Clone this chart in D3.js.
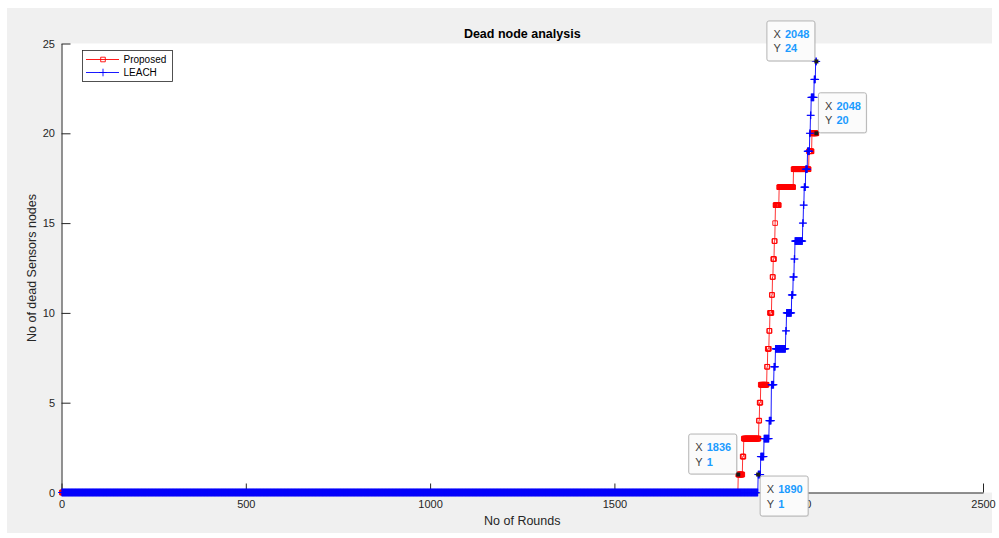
<!DOCTYPE html>
<html>
<head>
<meta charset="utf-8">
<script src="https://cdn.jsdelivr.net/npm/d3@7"></script>
<style>
  body { margin: 0; background: #ffffff; }
  svg { display: block; font-family: Arial, "Liberation Sans", Helvetica, sans-serif; }
</style>
</head>
<body>
<svg id="chart" width="999" height="538"></svg>
<script>
// Simulation length (rounds) and the round at which each successive node died.
const lastRound = 2048;
const proposedDeathRounds = [1836, 1848, 1851, 1892, 1894, 1897, 1914, 1916, 1920, 1922,
                             1927, 1929, 1931, 1934, 1936, 1937, 1947, 1986, 2028, 2036];
const leachDeathRounds = [1890, 1897, 1906, 1920, 1926, 1926, 1933, 1937, 1965, 1967,
                          1981, 1985, 1988, 1990, 2011, 2013, 2015, 2019, 2024, 2030,
                          2032, 2034, 2042, 2046];
const seriesNames = ["Proposed", "LEACH"];
const xTicks = [0, 500, 1000, 1500, 2000, 2500];
const yTicks = [0, 5, 10, 15, 20, 25];
// Pinned data tips: series, round, and which side of the point the box sits on.
const tipSeries = ["LEACH", "Proposed", "Proposed", "LEACH"];
const tipRounds = [2048, 2048, 1836, 1890];
const tipSides = ["nw", "ne", "nw", "se"];

// Dead-node count at every round 1..lastRound
function deadPerRound(deaths) {
  const out = [];
  for (let r = 1; r <= lastRound; r++) {
    out.push({ r, v: deaths.filter(d => d <= r).length });
  }
  return out;
}
const proposed = deadPerRound(proposedDeathRounds);
const leach = deadPerRound(leachDeathRounds);
const seriesData = { Proposed: proposed, LEACH: leach };

const svg = d3.select("#chart");
const axL = 61.5, axR = 983, axT = 43.5, axB = 492.5;

const x = d3.scaleLinear().domain([0, 2500]).range([axL, axR]);
const y = d3.scaleLinear().domain([0, 25]).range([axB, axT]);

// figure and axes backgrounds
svg.append("rect").attr("x", 7).attr("y", 8).attr("width", 985).attr("height", 525).attr("fill", "#f0f0f0");
svg.append("rect").attr("x", axL).attr("y", axT).attr("width", 992 - axL).attr("height", axB - axT).attr("fill", "#ffffff");

const axisColor = "#262626";

// x axis
const gx = svg.append("g").attr("transform", `translate(0,${axB})`)
  .call(d3.axisBottom(x).tickValues(xTicks).tickFormat(d3.format("d")).tickSizeInner(-9).tickSizeOuter(0).tickPadding(7.5));
// y axis
const gy = svg.append("g").attr("transform", `translate(${axL},0)`)
  .call(d3.axisLeft(y).tickValues(yTicks).tickFormat(d3.format("d")).tickSizeInner(-9).tickSizeOuter(0).tickPadding(6.5));
[gx, gy].forEach(g => {
  g.select(".domain").attr("stroke", axisColor).attr("stroke-width", 1);
  g.selectAll(".tick line").attr("stroke", axisColor).attr("stroke-width", 1);
  g.selectAll(".tick text").attr("fill", axisColor).attr("font-size", 11).attr("font-family", "Arial, 'Liberation Sans', sans-serif");
});

// titles
svg.append("text").attr("x", (axL + axR) / 2).attr("y", 38).attr("text-anchor", "middle")
  .attr("font-size", 12.5).attr("font-weight", "bold").attr("fill", "#000").text("Dead node analysis");
svg.append("text").attr("x", (axL + axR) / 2).attr("y", 525).attr("text-anchor", "middle")
  .attr("font-size", 12.5).attr("fill", axisColor).text("No of Rounds");
svg.append("text").attr("transform", `translate(36,${(axT + axB) / 2}) rotate(-90)`).attr("text-anchor", "middle")
  .attr("font-size", 12.5).attr("fill", axisColor).text("No of dead Sensors nodes");

const line = d3.line().x(d => x(d.r)).y(d => y(d.v));
const sq = 4.6;      // square marker side
const arm = 3.8;     // plus marker half-length
const squarePath = `M${-sq / 2},${-sq / 2}h${sq}v${sq}h${-sq}z`;
const plusPath = `M${-arm},0H${arm}M0,${-arm}V${arm}`;

// Proposed: red line with square markers
const gP = svg.append("g");
gP.append("path").datum(proposed).attr("d", line).attr("fill", "none").attr("stroke", "#ff0000").attr("stroke-width", 0.8);
gP.selectAll("path.m").data(proposed).join("path").attr("class", "m")
  .attr("transform", d => `translate(${x(d.r)},${y(d.v)})`).attr("d", squarePath)
  .attr("fill", "none").attr("stroke", "#ff0000").attr("stroke-width", 0.9);

// LEACH: blue line with plus markers
const gL = svg.append("g");
gL.append("path").datum(leach).attr("d", line).attr("fill", "none").attr("stroke", "#0000ff").attr("stroke-width", 0.9);
gL.selectAll("path.m").data(leach).join("path").attr("class", "m")
  .attr("transform", d => `translate(${x(d.r)},${y(d.v)})`).attr("d", plusPath)
  .attr("fill", "none").attr("stroke", "#0000ff").attr("stroke-width", 0.9);

// legend
const lg = svg.append("g").attr("transform", "translate(82.5,50.5)");
lg.append("rect").attr("width", 90).attr("height", 31).attr("fill", "#fff").attr("stroke", axisColor).attr("stroke-width", 0.8);
const legendColors = ["#ff0000", "#0000ff"];
const legendPaths = [squarePath, plusPath];
seriesNames.forEach((name, i) => {
  const row = lg.append("g").attr("transform", `translate(0,${9 + i * 13})`);
  row.append("line").attr("x1", 3.5).attr("x2", 36.5).attr("stroke", legendColors[i]).attr("stroke-width", 0.9);
  row.append("path").attr("d", legendPaths[i]).attr("transform", "translate(20.5,0)")
    .attr("fill", "none").attr("stroke", legendColors[i]).attr("stroke-width", 0.9);
  row.append("text").attr("x", 41).attr("y", 3.8).attr("font-size", 10).attr("fill", "#000").text(name);
});

// data tips
const tipW = 48, tipH = 40;
tipSeries.forEach((s, i) => {
  const pt = seriesData[s].find(d => d.r === tipRounds[i]);
  const px = x(pt.r), py = y(pt.v);
  const side = tipSides[i];
  const bx = side.includes("w") ? px - 1.5 - tipW : px + 2;
  const by = side.includes("n") ? py - 0.5 - tipH : py + 1.5;
  const g = svg.append("g");
  g.append("rect").attr("x", bx + 1).attr("y", by + 1).attr("width", tipW).attr("height", tipH).attr("rx", 2)
    .attr("fill", "#000").attr("opacity", 0.06);
  g.append("rect").attr("x", bx).attr("y", by).attr("width", tipW).attr("height", tipH).attr("rx", 2)
    .attr("fill", "#fbfbfb").attr("stroke", "#b4b4b4").attr("stroke-width", 1);
  [["X", pt.r], ["Y", pt.v]].forEach(([lab, val], j) => {
    const t = g.append("text").attr("x", bx + 6.5).attr("y", by + 17 + j * 14.5).attr("font-size", 11);
    t.append("tspan").attr("fill", "#404040").text(lab);
    t.append("tspan").attr("x", bx + 18).attr("fill", "#1c9bff").attr("font-weight", "bold").text(val);
  });
  g.append("rect").attr("x", px - 2).attr("y", py - 2).attr("width", 4).attr("height", 4).attr("fill", "#1a1a1a");
});
</script>
</body>
</html>
